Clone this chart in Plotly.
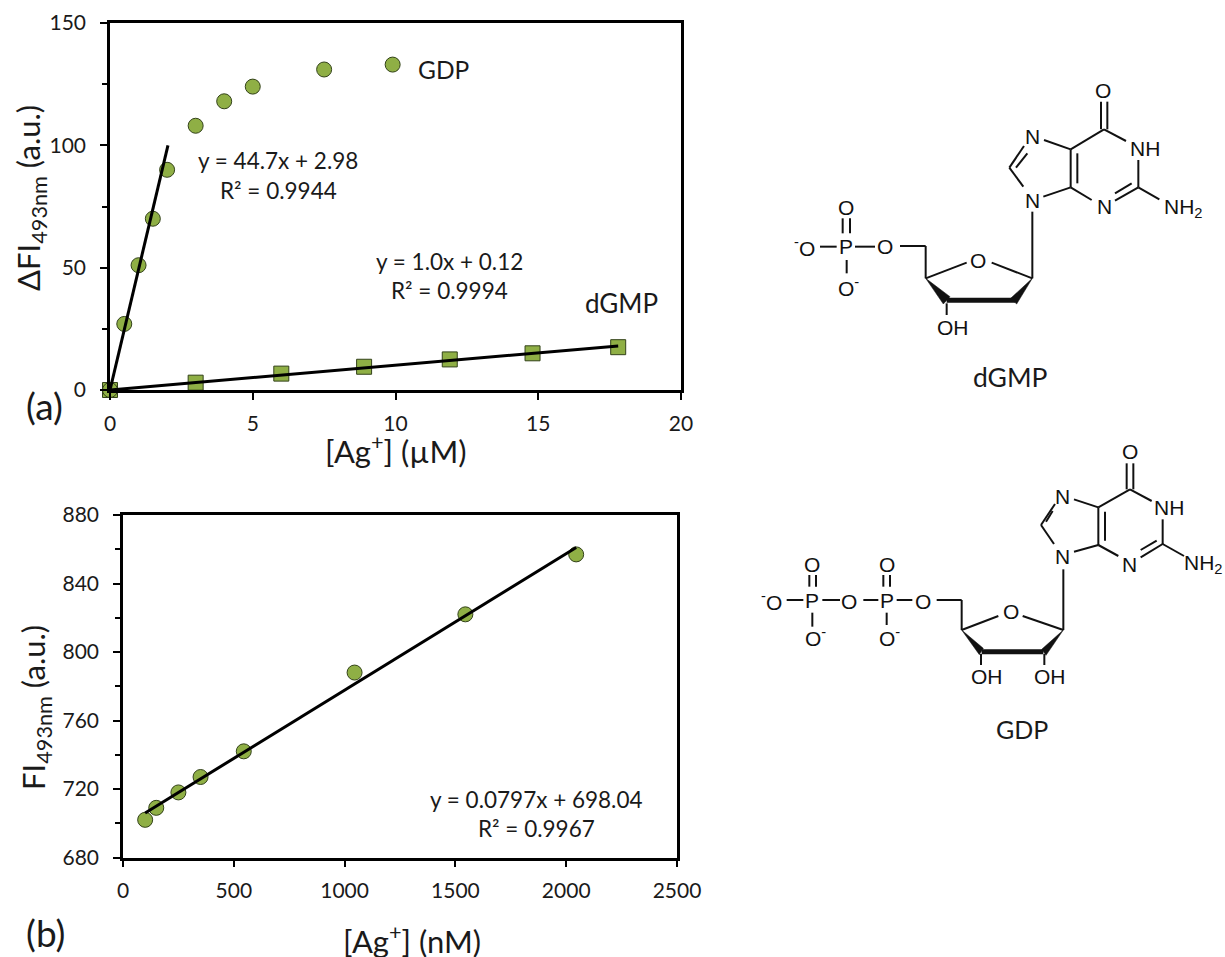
import plotly.graph_objects as go

W, H = 1225, 957
CHART_FONT = "Lato"
CHEM_FONT = "Liberation Sans"

# ---- data ----
gdp_x = [0, 0.5, 1, 1.5, 2, 3, 4, 5, 7.5, 9.9]
gdp_y = [0, 27, 51, 70, 90, 108, 118, 124, 131, 133]
dgmp_x = [0, 3, 6, 8.9, 11.9, 14.8, 17.8]
dgmp_y = [0, 3, 6.7, 9.5, 12.5, 15, 17.5]
gdp_fit_x = [0, 2.03]
gdp_fit_y = [0, 100]
dgmp_fit_x = [0, 17.8]
dgmp_fit_y = [0, 18]
ag_nm = [100, 150, 250, 350, 545, 1045, 1545, 2045]
fi_493 = [702, 709, 718, 727, 742, 788, 822, 857]
fi_fit_x = [100, 2045]
fi_fit_y = [706, 861]

MARKER = "#8FAF45"
EDGE = "#33421A"

fig = go.Figure()


def pts(x, y, sym, size, xa, ya, name):
    fig.add_trace(go.Scatter(x=x, y=y, mode="markers", xaxis=xa, yaxis=ya, name=name, cliponaxis=False,
                             marker=dict(symbol=sym, size=size, color=MARKER, line=dict(color=EDGE, width=1))))


def fit(x, y, xa, ya, name):
    fig.add_trace(go.Scatter(x=x, y=y, mode="lines", xaxis=xa, yaxis=ya, name=name, cliponaxis=False,
                             line=dict(color="black", width=3)))


pts(dgmp_x, dgmp_y, "square", 15, "x", "y", "dGMP")
pts(gdp_x, gdp_y, "circle", 15, "x", "y", "GDP")
fit(gdp_fit_x, gdp_fit_y, "x", "y", "GDP fit")
fit(dgmp_fit_x, dgmp_fit_y, "x", "y", "dGMP fit")
pts(ag_nm, fi_493, "circle", 15, "x2", "y2", "FI")
fit(fi_fit_x, fi_fit_y, "x2", "y2", "FI fit")


def px(v):
    return v / W


def py(v):
    return 1 - v / H


axis = dict(showgrid=False, zeroline=False, showline=True, linecolor="black", linewidth=2.5, mirror=True,
            automargin=False, ticks="outside", ticklen=7, tickwidth=2, tickcolor="black",
            tickfont=dict(family=CHART_FONT, size=21, color="#1a1a1a"), ticklabelstandoff=10)

fig.update_layout(
    width=W, height=H, autosize=False, showlegend=False, margin=dict(l=0, r=0, t=0, b=0),
    paper_bgcolor="white", plot_bgcolor="white",
    xaxis=dict(axis, domain=[px(110), px(681)], range=[0, 20], tick0=0, dtick=5, anchor="y", ticklabelstandoff=6),
    yaxis=dict(axis, domain=[py(390), py(23)], range=[0, 150], tick0=0, dtick=50, anchor="x",
               minor=dict(tick0=0, dtick=25, ticks="outside", ticklen=5, tickwidth=2, tickcolor="black")),
    xaxis2=dict(axis, domain=[px(123), px(677)], range=[0, 2500], tick0=0, dtick=500, anchor="y2", ticklabelstandoff=6),
    yaxis2=dict(axis, domain=[py(857.5), py(515)], range=[680, 880], tick0=680, dtick=40, anchor="x2",
                minor=dict(tick0=680, dtick=20, ticks="outside", ticklen=5, tickwidth=2, tickcolor="black")),
)

annots = []


def text(x, y, s, size=20, font=CHART_FONT, angle=0, anchor="center", color="#1a1a1a"):
    annots.append(dict(x=px(x), y=py(y), xref="paper", yref="paper", text=s, showarrow=False, xanchor=anchor,
                       yanchor="middle", textangle=angle, font=dict(family=font, size=size, color=color)))


text(443, 69, "GDP", 24.5)
text(621, 303, "dGMP", 26)
text(278, 160, "y = 44.7x + 2.98", 22.5)
text(278, 190, "R² = 0.9944", 22.5)
text(449, 262, "y = 1.0x + 0.12", 22.5)
text(449, 291, "R² = 0.9994", 22.5)
text(536, 799, "y = 0.0797x + 698.04", 22.5)
text(536, 828, "R² = 0.9967", 22.5)
text(44, 405, "(a)", 37)
text(45, 932, "(b)", 37)
text(396, 449, "[Ag<sup>+</sup>] (µM)", 31)
text(412, 939, "[Ag<sup>+</sup>] (nM)", 31)
text(31, 198, "ΔFI<sub>493nm</sub> (a.u.)", 31, angle=-90)
text(35, 708, "FI<sub>493nm</sub> (a.u.)", 31, angle=-90)
text(1010, 377, "dGMP", 26.5)
text(1022, 729, "GDP", 25)

shapes = []
STRUCT_BLACK = "#111111"


def seg(ox, oy, lines, width=2):
    for (a, b, c, d) in lines:
        shapes.append(dict(type="line", xref="paper", yref="paper", x0=px(ox + a / 3), y0=py(oy + b / 3),
                           x1=px(ox + c / 3), y1=py(oy + d / 3), line=dict(color=STRUCT_BLACK, width=width)))


def poly(ox, oy, p):
    path = "M " + " L ".join(f"{px(ox + a / 3):.5f},{py(oy + b / 3):.5f}" for a, b in p) + " Z"
    shapes.append(dict(type="path", xref="paper", yref="paper", path=path, fillcolor=STRUCT_BLACK,
                       line=dict(color=STRUCT_BLACK, width=0.5)))


def chem(ox, oy, labels):
    for (a, b, s) in labels:
        text(ox + a / 3, oy + b / 3, s, 21, CHEM_FONT, color="#111111")


# dGMP structure
o1 = (770, 70)
seg(*o1, [
    (993, 95, 993, 178), (1012, 95, 1012, 178), (1002, 178, 902, 238), (1002, 178, 1068, 213),
    (1105, 270, 1105, 352), (1105, 352, 1035, 392), (1085, 340, 1035, 370), (1105, 352, 1168, 388),
    (965, 390, 902, 352), (902, 238, 902, 352), (922, 250, 922, 340), (902, 238, 822, 210),
    (762, 228, 718, 293), (772, 250, 738, 293), (718, 293, 760, 350), (820, 380, 902, 352),
    (787, 425, 787, 625), (787, 625, 665, 578), (590, 578, 467, 625), (467, 625, 467, 528),
    (467, 528, 390, 528), (530, 700, 530, 735), (218, 445, 218, 490), (240, 445, 240, 490),
    (150, 530, 200, 530), (255, 530, 315, 530), (230, 570, 230, 610),
])
poly(*o1, [(467, 625), (520, 702), (540, 680)])
poly(*o1, [(787, 625), (722, 685), (740, 702)])
seg(*o1, [(530, 691, 735, 691)], width=5)
chem(*o1, [
    (1000, 60, "O"), (1125, 235, "NH"), (1002, 410, "N"), (787, 200, "N"), (787, 390, "N"),
    (1240, 415, "NH<sub>2</sub>"), (228, 413, "O"), (228, 530, "P"), (345, 530, "O"),
    (103, 530, "<sup>-</sup>O"), (235, 650, "O<sup>-</sup>"), (625, 570, "O"), (550, 772, "OH"),
])

# GDP structure
o2 = (750, 430)
seg(*o2, [
    (1130, 100, 1130, 178), (1150, 100, 1150, 178), (1140, 178, 1045, 232), (1140, 178, 1205, 213),
    (1238, 268, 1238, 342), (1238, 342, 1172, 382), (1220, 332, 1172, 360), (1238, 342, 1302, 378),
    (1105, 378, 1045, 345), (1045, 232, 1045, 345), (1065, 245, 1065, 332), (1045, 232, 972, 208),
    (915, 222, 873, 285), (908, 243, 888, 275), (873, 285, 912, 342), (972, 365, 1045, 345),
    (940, 418, 940, 600), (940, 600, 818, 558), (745, 558, 635, 600), (635, 600, 635, 510),
    (635, 510, 560, 510), (693, 672, 693, 705), (883, 672, 883, 705),
    (440, 510, 487, 510), (340, 510, 385, 510), (217, 510, 270, 510), (110, 510, 160, 510),
    (178, 435, 178, 470), (198, 435, 198, 470), (400, 435, 400, 470), (420, 435, 420, 470),
    (187, 548, 187, 590), (410, 548, 410, 585),
])
poly(*o2, [(635, 600), (688, 674), (700, 655)])
poly(*o2, [(940, 600), (875, 658), (888, 676)])
seg(*o2, [(695, 665, 880, 665)], width=5)
chem(*o2, [
    (1140, 65, "O"), (1258, 233, "NH"), (1138, 402, "N"), (937, 198, "N"), (937, 380, "N"),
    (1360, 402, "NH<sub>2</sub>"), (783, 545, "O"), (712, 740, "OH"), (900, 740, "OH"),
    (520, 513, "O"), (410, 510, "P"), (410, 403, "O"), (418, 622, "O<sup>-</sup>"), (298, 513, "O"),
    (187, 510, "P"), (187, 403, "O"), (195, 622, "O<sup>-</sup>"), (65, 513, "<sup>-</sup>O"),
])

fig.update_layout(annotations=annots, shapes=shapes)
fig.write_html("out.html", config=dict(displayModeBar=False),
               post_script="document.body.style.margin='0';")
